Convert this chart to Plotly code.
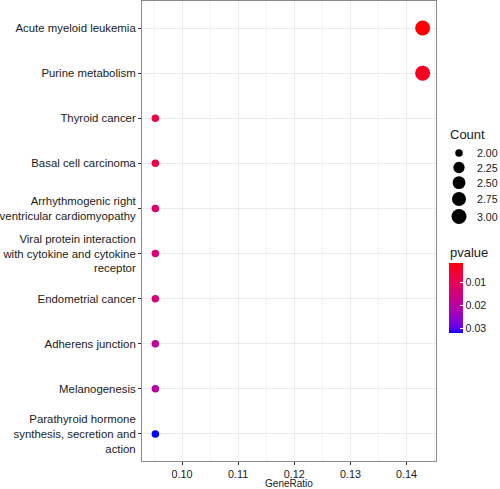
import numpy as np
import plotly.graph_objects as go

# ---------------- data ----------------
pathways = [
    "Acute myeloid leukemia",
    "Purine metabolism",
    "Thyroid cancer",
    "Basal cell carcinoma",
    "Arrhythmogenic right<br>ventricular cardiomyopathy",
    "Viral protein interaction<br>with cytokine and cytokine<br>receptor",
    "Endometrial cancer",
    "Adherens junction",
    "Melanogenesis",
    "Parathyroid hormone<br>synthesis, secretion and<br>action",
]
gene_ratio = [3/21, 3/21, 2/21, 2/21, 2/21, 2/21, 2/21, 2/21, 2/21, 2/21]
counts = [3, 3, 2, 2, 2, 2, 2, 2, 2, 2]
pvalues = [0.00133, 0.0037, 0.0075, 0.0082, 0.0120, 0.0140, 0.0150, 0.0180, 0.0205, 0.0322]

x_tick_vals = [0.10, 0.11, 0.12, 0.13, 0.14]
x_tick_labels = ["0.10", "0.11", "0.12", "0.13", "0.14"]
count_breaks = [2.00, 2.25, 2.50, 2.75, 3.00]
count_labels = ["2.00", "2.25", "2.50", "2.75", "3.00"]
p_breaks = [0.01, 0.02, 0.03]
p_labels = ["0.01", "0.02", "0.03"]

# ---------------- styling helpers ----------------
FONT = "Liberation Sans, Arial, sans-serif"
TXT = "#1a1a1a"

M = np.array([[0.4124564, 0.3575761, 0.1804375],
              [0.2126729, 0.7151522, 0.0721750],
              [0.0193339, 0.1191920, 0.9503041]])
WN = np.array([0.95047, 1.0, 1.08883])


def rgb_to_lab(rgb):
    c = np.array(rgb) / 255.0
    c = np.where(c <= 0.04045, c / 12.92, ((c + 0.055) / 1.055) ** 2.4)
    xyz = M @ c / WN
    f = np.where(xyz > 0.008856, np.cbrt(xyz), 7.787 * xyz + 16 / 116)
    return np.array([116 * f[1] - 16, 500 * (f[0] - f[1]), 200 * (f[1] - f[2])])


def lab_to_rgb(lab):
    L, a, b = lab
    fy = (L + 16) / 116
    fx = fy + a / 500
    fz = fy - b / 200
    f = np.array([fx, fy, fz])
    xyz = np.where(f ** 3 > 0.008856, f ** 3, (f - 16 / 116) / 7.787) * WN
    c = np.linalg.solve(M, xyz)
    c = np.clip(c, 0, 1)
    c = np.where(c <= 0.0031308, 12.92 * c, 1.055 * c ** (1 / 2.4) - 0.055)
    c = np.clip(np.round(c * 255), 0, 255).astype(int)
    return "rgb(%d,%d,%d)" % tuple(c)


LAB_LOW = rgb_to_lab((255, 0, 0))
LAB_HIGH = rgb_to_lab((0, 0, 255))
stops = np.linspace(0, 1, 25)
colorscale = [[float(t), lab_to_rgb(LAB_LOW + (LAB_HIGH - LAB_LOW) * t)] for t in stops]
colorscale_rev = [[float(1 - t), c] for t, c in colorscale][::-1]

pmin, pmax = min(pvalues), max(pvalues)
cmin_, cmax_ = min(counts), max(counts)
D_MIN, D_MAX = 7.5, 15.0


def size_of(c):
    t = (np.asarray(c, dtype=float) - cmin_) / (cmax_ - cmin_)
    return D_MIN + (D_MAX - D_MIN) * np.sqrt(np.clip(t, 0, 1))


# ---------------- figure ----------------
W, H = 500, 489
ML, MR, MT, MB = 142, 0, 1, 28
PW = W - ML - MR
PH = H - MT - MB
panel_right_px = 436
main_dom = (panel_right_px - ML) / PW
leg_left_px = 439


def px_x(px):
    return (px - ML) / PW


def px_y(py):
    return (H - MB - py) / PH


def lx(px):
    return (px - leg_left_px) / (W - leg_left_px)


fig = go.Figure()

fig.add_trace(go.Scatter(
    x=gene_ratio, y=pathways, mode="markers",
    marker=dict(size=size_of(counts), color=pvalues, colorscale=colorscale,
                cmin=pmin, cmax=pmax, showscale=False, line=dict(width=0), opacity=1),
    xaxis="x", yaxis="y", showlegend=False, hoverinfo="skip",
))

# colour bar (reversed: low p at top)
fig.add_trace(go.Scatter(
    x=[None] * len(pvalues), y=[None] * len(pvalues), mode="markers",
    marker=dict(color=[-p for p in pvalues], colorscale=colorscale_rev,
                cmin=-pmax, cmax=-pmin, showscale=True,
                colorbar=dict(
                    x=px_x(449), xanchor="left", xpad=0, ypad=0,
                    y=px_y(298), yanchor="middle",
                    thickness=14, len=70, lenmode="pixels",
                    outlinewidth=0,
                    tickmode="array", tickvals=[-p for p in p_breaks], ticktext=p_labels,
                    ticks="inside", ticklen=3, tickcolor="white", tickwidth=1,
                    tickfont=dict(family=FONT, size=10.6, color=TXT),
                )),
    xaxis="x2", yaxis="y2", showlegend=False, hoverinfo="skip",
))

# Count size legend
leg_sizes = size_of(count_breaks)
heights = np.maximum(leg_sizes + 3, 14.5)
centers = [153.0]
for i in range(1, len(heights)):
    centers.append(centers[-1] + (heights[i - 1] + heights[i]) / 2)
fig.add_trace(go.Scatter(
    x=[lx(459)] * len(count_breaks), y=[px_y(c) for c in centers], mode="markers",
    marker=dict(size=leg_sizes, color="black", line=dict(width=0), opacity=1),
    xaxis="x2", yaxis="y2", showlegend=False, hoverinfo="skip",
))
for lab, cy in zip(count_labels, centers):
    fig.add_annotation(x=lx(475), y=px_y(cy), xref="x2", yref="y2",
                       text=lab, showarrow=False, xanchor="left", yanchor="middle",
                       font=dict(family=FONT, size=10.6, color=TXT))

fig.add_annotation(x=lx(448), y=px_y(134), xref="x2", yref="y2",
                   text="Count", showarrow=False, xanchor="left", yanchor="middle",
                   font=dict(family=FONT, size=13, color=TXT))
fig.add_annotation(x=lx(448), y=px_y(252), xref="x2", yref="y2",
                   text="pvalue", showarrow=False, xanchor="left", yanchor="middle",
                   font=dict(family=FONT, size=13, color=TXT))

xr = max(gene_ratio) - min(gene_ratio)
fig.update_layout(
    width=W, height=H,
    margin=dict(l=ML, r=MR, t=MT, b=MB, autoexpand=False),
    paper_bgcolor="white", plot_bgcolor="white",
    font=dict(family=FONT, color=TXT),
    xaxis=dict(
        domain=[0, main_dom], anchor="y",
        range=[min(gene_ratio) - 0.05 * xr, max(gene_ratio) + 0.05 * xr],
        tickmode="array", tickvals=x_tick_vals, ticktext=x_tick_labels,
        ticks="outside", ticklen=3, tickcolor="#333333", tickwidth=1,
        tickfont=dict(family=FONT, size=10.8, color=TXT),
        showgrid=True, gridcolor="#ebebeb", gridwidth=1,
        minor=dict(tickmode="linear", tick0=0.095, dtick=0.01, showgrid=True,
                   gridcolor="#f3f3f3", gridwidth=1, ticks=""),
        showline=True, mirror=True, linecolor="#8a8a8a", linewidth=1,
        zeroline=False, automargin=False,
        title=dict(text="GeneRatio", font=dict(family=FONT, size=10, color=TXT), standoff=0),
    ),
    yaxis=dict(
        domain=[0, 1], anchor="x",
        type="category", categoryorder="array", categoryarray=pathways[::-1],
        range=[-0.6, len(pathways) - 0.4],
        ticks="outside", ticklen=3, tickcolor="#333333", tickwidth=1,
        tickfont=dict(family=FONT, size=11.4, color=TXT),
        showgrid=True, gridcolor="#ebebeb", gridwidth=1,
        showline=True, mirror=True, linecolor="#8a8a8a", linewidth=1,
        zeroline=False, automargin=False,
    ),
    xaxis2=dict(domain=[(leg_left_px - ML) / PW, 1], anchor="y2", range=[0, 1],
                visible=False, fixedrange=True),
    yaxis2=dict(domain=[0, 1], anchor="x2", range=[0, 1], visible=False, fixedrange=True),
)

fig.write_html("out.html", config={"displayModeBar": False},
               post_script="document.body.style.margin='0';document.body.style.overflow='hidden';")
